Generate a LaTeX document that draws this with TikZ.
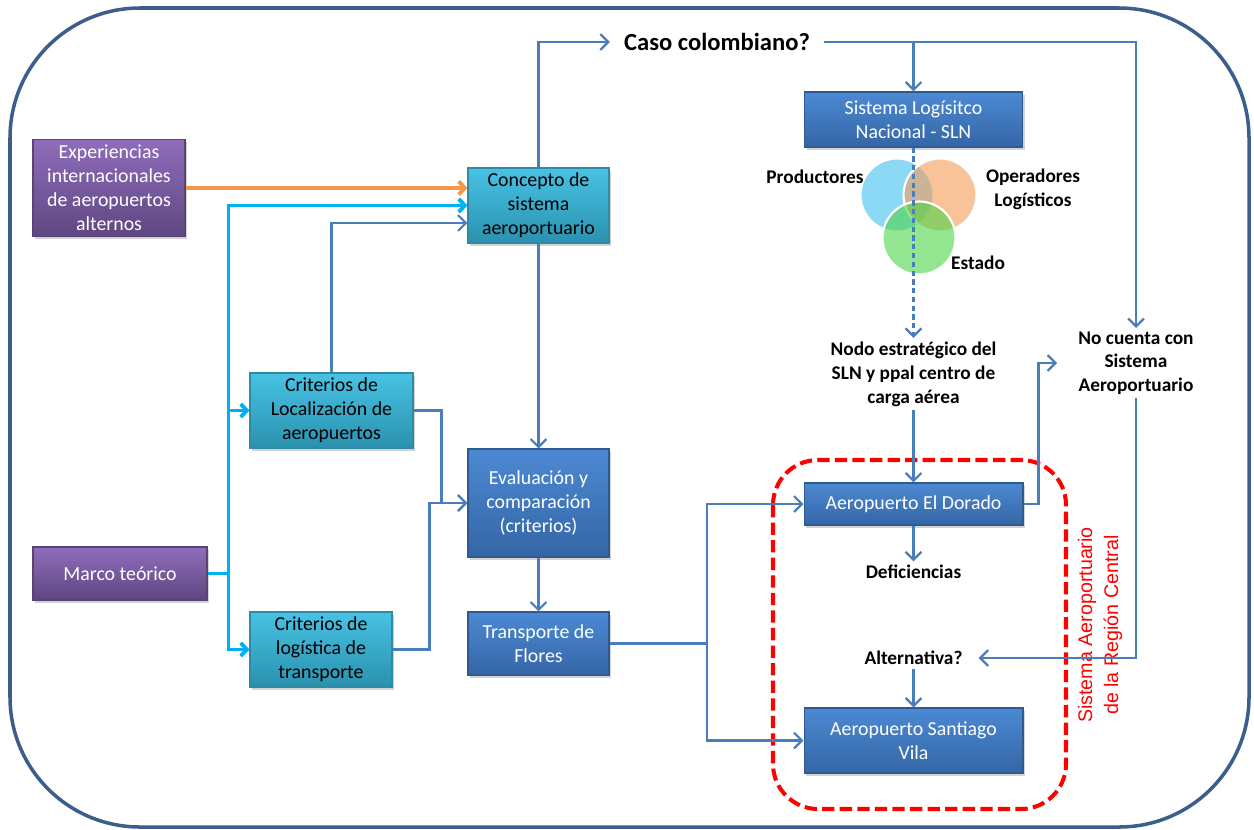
\documentclass[tikz,border=0pt]{standalone}
\usepackage{fontspec}
\setmainfont{Carlito}
\newfontfamily\arialfont{Liberation Sans}
\usepackage{tikz}
\usetikzlibrary{arrows.meta,calc,positioning,shadows}
\definecolor{azulLinea}{HTML}{4A7EBB}
\definecolor{marcoAzul}{HTML}{3B5E8C}
\definecolor{naranja}{HTML}{F79646}
\definecolor{cianFuerte}{HTML}{00B0F0}
\definecolor{rojo}{HTML}{FF0000}
\definecolor{moradoArriba}{HTML}{8F6DBB}
\definecolor{moradoAbajo}{HTML}{5F4781}
\definecolor{moradoBorde}{HTML}{5A4475}
\definecolor{cianArriba}{HTML}{48C2E4}
\definecolor{cianAbajo}{HTML}{2A91AE}
\definecolor{cianBorde}{HTML}{2E8AA5}
\definecolor{azulArriba}{HTML}{4C89D3}
\definecolor{azulAbajo}{HTML}{3466A6}
\definecolor{azulBorde}{HTML}{2F5A90}
\definecolor{vennAzul}{HTML}{3FBFF0}
\definecolor{vennNaranja}{HTML}{F59B55}
\definecolor{vennVerde}{HTML}{4CD446}

\begin{document}
\begin{tikzpicture}[x=0.02cm,y=-0.02cm,
  caja/.style={rectangle,inner sep=0pt,align=center,line width=0.6pt,
    font=\fontsize{11.3}{13.6}\selectfont,
    drop shadow={shadow xshift=1.2pt,shadow yshift=-1.6pt,opacity=0.35}},
  cajaMorada/.style={caja,top color=moradoArriba,bottom color=moradoAbajo,draw=moradoBorde,text=white},
  cajaCian/.style={caja,top color=cianArriba,bottom color=cianAbajo,draw=cianBorde,text=black},
  cajaAzul/.style={caja,top color=azulArriba,bottom color=azulAbajo,draw=azulBorde,text=white},
  etiqueta/.style={align=center,inner sep=2pt,font=\bfseries\fontsize{11}{13.6}\selectfont},
  flecha/.style={draw=azulLinea,line width=1.3pt,-{Straight Barb[length=4.5pt,width=9pt]}},
  flechaCian/.style={draw=cianFuerte,line width=2.2pt,-{Straight Barb[length=3.5pt,width=7.5pt]}},
  flechaNaranja/.style={draw=naranja,line width=2.2pt,-{Straight Barb[length=3.5pt,width=7.5pt]}},
  vennCirc/.style={circle,minimum size=1.46cm,inner sep=0pt,fill opacity=0.6,draw=white,line width=1.2pt},
  marcoRojo/.style={draw=rojo,line width=2.3pt,dash pattern=on 7pt off 3pt,rounded corners=0.9cm},
  marcoExterno/.style={draw=marcoAzul,line width=2pt,rounded corners=2.6cm}]
\useasboundingbox (0,0) rectangle (1254,829);
\draw[marcoExterno] (10,8) rectangle (1249,827);

\node[cajaMorada,minimum width=3.04cm,minimum height=1.94cm] (expInt) at (109,188) {Experiencias\\internacionales\\de aeropuertos\\alternos};
\node[cajaCian,minimum width=2.82cm,minimum height=1.5cm] (concepto) at (538.5,205.5) {Concepto de\\sistema\\aeroportuario};
\node[cajaCian,minimum width=3.26cm,minimum height=1.5cm] (critLoc) at (331.5,410.5) {Criterios de\\Localización de\\aeropuertos};
\node[cajaMorada,minimum width=3.48cm,minimum height=1.06cm] (marco) at (120,573.5) {Marco teórico};
\node[cajaCian,minimum width=2.84cm,minimum height=1.5cm] (critLog) at (321,649.5) {Criterios de\\logística de\\transporte};
\node[cajaAzul,minimum width=2.82cm,minimum height=2.16cm] (evalua) at (538.5,503) {Evaluación y\\comparación\\(criterios)};
\node[cajaAzul,minimum width=2.82cm,minimum height=1.26cm] (transp) at (538.5,643.5) {Transporte de\\Flores};
\node[cajaAzul,minimum width=4.36cm,minimum height=1.1cm] (sln) at (913.5,119.5) {Sistema Logísitco\\Nacional - SLN};
\node[cajaAzul,minimum width=4.38cm,minimum height=0.84cm] (dorado) at (913.5,504) {Aeropuerto El Dorado};
\node[cajaAzul,minimum width=4.38cm,minimum height=1.3cm] (santiago) at (913.5,740.5) {Aeropuerto Santiago\\Vila};

\node[etiqueta,inner sep=8pt,font=\bfseries\fontsize{14}{16}\selectfont] (caso) at (717,42) {Caso colombiano?};
\node[etiqueta] (nodoEst) at (913.5,374) {Nodo estratégico del\\SLN y ppal centro de\\carga aérea};
\node[etiqueta,font=\bfseries\fontsize{11}{13.3}\selectfont] (noCuenta) at (1136,363) {No cuenta con\\Sistema\\Aeroportuario};
\node[etiqueta] (defic) at (913.5,572) {Deficiencias};
\node[etiqueta] (altern) at (913.5,658) {Alternativa?};

\node[vennCirc,fill=vennAzul] (circProd) at (897,195) {};
\node[vennCirc,fill=vennNaranja] (circOper) at (940,195) {};
\node[vennCirc,fill=vennVerde] (circEst) at (919,238) {};
\node[etiqueta] (productores) at (815,177) {Productores};
\node[etiqueta] (operadores) at (1033,189) {Operadores\\Logísticos};
\node[etiqueta] (estado) at (978,263) {Estado};

\draw[marcoRojo] (773,460) rectangle (1066,809);
\node[text=rojo,rotate=90,align=center,font=\arialfont\fontsize{11.2}{14.7}\selectfont] (regionLbl) at (1100,625) {Sistema Aeroportuario\\de la Región Central};

\draw[flechaNaranja] (expInt.east) -- (expInt.east -| concepto.west);
\draw[flechaCian] (marco.east) -- ++(21,0) coordinate (tronco) |- (concepto.west);
\draw[flechaCian] (tronco) |- (critLoc.west);
\draw[flechaCian] (tronco) |- (critLog.west);
\draw[flecha] (critLoc.north) |- ($(concepto.west)+(0,17.5)$);
\draw[flecha] (critLoc.east) -- ++(28,0) |- (evalua.west);
\draw[flecha] (critLog.east) -- ++(37,0) |- (evalua.west);
\draw[flecha] (concepto.south) -- (evalua.north);
\draw[flecha] (evalua.south) -- (transp.north);
\draw[flecha] (concepto.north) |- (caso.west);
\draw[flecha] (caso.east) -| (noCuenta.north);
\draw[flecha] (caso.east -| sln.north) -- (sln.north);
\draw[flecha,dash pattern=on 3pt off 2pt] (sln.south) -- (nodoEst.north);
\draw[flecha] (nodoEst.south) -- (dorado.north);
\draw[flecha,shorten >=10pt] (dorado.east) -- ++(15,0) |- (noCuenta.west);
\draw[flecha,shorten >=7pt] (noCuenta.south) |- (altern.east);
\draw[flecha] (dorado.south) -- (defic.north);
\draw[flecha] (altern.south) -- (santiago.north);
\draw[flecha] (transp.east) -- ++(97.5,0) coordinate (reparto) |- (dorado.west);
\draw[flecha] (reparto) |- (santiago.west);
\end{tikzpicture}
\end{document}
